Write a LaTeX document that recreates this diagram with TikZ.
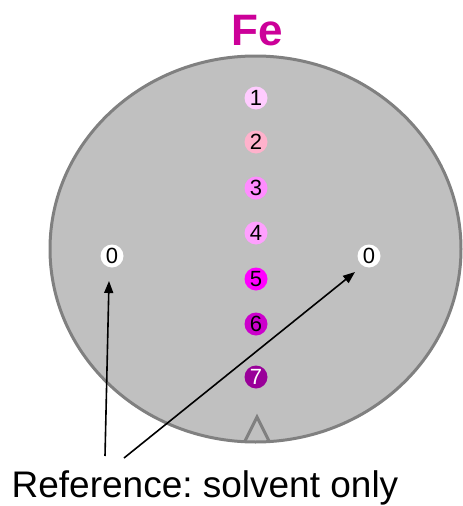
\documentclass[tikz,border=0pt]{standalone}
\usepackage{fontspec}
\setmainfont{Liberation Sans}
\frenchspacing
\usetikzlibrary{arrows.meta,shapes.geometric}
\definecolor{plategray}{RGB}{192,192,192}
\definecolor{rimgray}{RGB}{128,128,128}
\definecolor{fecol}{RGB}{204,0,153}
\definecolor{sA}{RGB}{255,204,255}
\definecolor{sB}{RGB}{255,178,204}
\definecolor{sC}{RGB}{255,140,255}
\definecolor{sD}{RGB}{255,160,255}
\definecolor{sE}{RGB}{255,0,255}
\definecolor{sF}{RGB}{204,0,204}
\definecolor{sG}{RGB}{153,0,153}
\tikzset{
  spot/.style={circle, inner sep=0pt, minimum size=23pt, font=\fontsize{22}{22}\selectfont},
  arr/.style={-{Triangle[length=12pt,width=9pt]}, line width=1.6pt, black}
}
\begin{document}
\begin{tikzpicture}[x=1pt,y=-1pt]
\useasboundingbox (0,0) rectangle (463,506);
\node[draw=rimgray, line width=3pt, fill=plategray, ellipse, inner sep=0pt, minimum width=411pt, minimum height=386pt] (plate) at (255.5,249) {};
\path[draw=rimgray, line width=3pt, line join=miter] (245,441) -- (257,417) -- (269,441);
\node[font=\fontsize{44}{44}\selectfont\bfseries, text=fecol, anchor=base, inner sep=0pt] (fe) at (257.5,45) {Fe};
\node[spot, fill=sA] (s1) at (256,98) {1};
\node[spot, fill=sB] (s2) at (256,142) {2};
\node[spot, fill=sC] (s3) at (256,188) {3};
\node[spot, fill=sD] (s4) at (256,233) {4};
\node[spot, fill=sE] (s5) at (256,279) {5};
\node[spot, fill=sF] (s6) at (256,324) {6};
\node[spot, fill=sG, text=white] (s7) at (256,377) {7};
\node[spot, fill=white] (z1) at (112,256) {0};
\node[spot, fill=white] (z2) at (369,256) {0};
\node[font=\fontsize{37}{37}\selectfont, anchor=base, inner sep=0pt] (ref) at (205,497) {Reference: solvent only};
\coordinate (a1) at (105,456);
\coordinate (a2) at (124,458);
\coordinate (t1) at (109,281);
\coordinate (t2) at (355,272);
\draw[arr] (a1) -- (t1);
\draw[arr] (a2) -- (t2);
\end{tikzpicture}
\end{document}
